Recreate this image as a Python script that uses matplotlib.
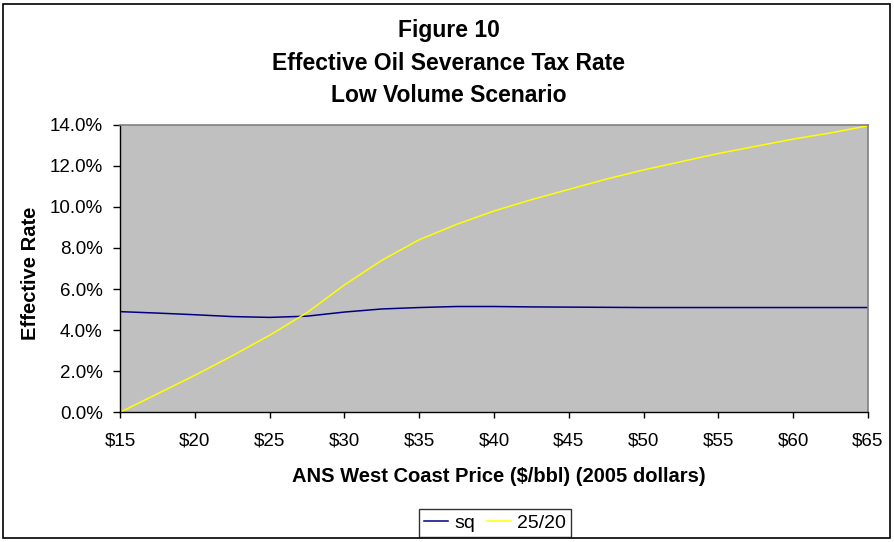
import matplotlib
matplotlib.use("Agg")
import matplotlib.pyplot as plt
from matplotlib.patches import Rectangle
from matplotlib.ticker import FuncFormatter, MultipleLocator

plt.rcParams['font.family'] = ['Liberation Sans', 'DejaVu Sans']

price = [15, 17.5, 20, 22.5, 25, 27.5, 30, 32.5, 35, 37.5, 40, 42.5, 45,
         47.5, 50, 52.5, 55, 57.5, 60, 62.5, 65]
sq = [4.90, 4.83, 4.75, 4.66, 4.62, 4.68, 4.88, 5.03, 5.10, 5.15, 5.15, 5.13,
      5.12, 5.11, 5.10, 5.10, 5.10, 5.10, 5.10, 5.10, 5.10]
alt = [0.0, 0.9, 1.8, 2.75, 3.75, 4.85, 6.2, 7.4, 8.4, 9.15, 9.8, 10.35, 10.85,
       11.35, 11.8, 12.2, 12.6, 12.95, 13.3, 13.6, 13.95]
series_names = ["sq", "25/20"]
title_lines = ["Figure 10", "Effective Oil Severance Tax Rate", "Low Volume Scenario"]

W, H = 895, 542
fig = plt.figure(figsize=(W / 100, H / 100), dpi=100)
fig.patch.set_facecolor('white')
fig.patches.append(Rectangle((3 / W, 4 / H), 887 / W, 534 / H, transform=fig.transFigure,
                             fill=False, edgecolor='black', linewidth=1.2))

ax = fig.add_axes([120 / W, 1 - 412.3 / H, 748 / W, 287.6 / H])
ax.set_facecolor('#C0C0C0')
ax.plot(price, sq, color='#000080', lw=1.1, label=series_names[0])
ax.plot(price, alt, color='#FFFF00', lw=1.1, label=series_names[1])
ax.set_xlim(15, 65)
ax.set_ylim(0, 14)
ax.xaxis.set_major_locator(MultipleLocator(5))
ax.yaxis.set_major_locator(MultipleLocator(2))
ax.xaxis.set_major_formatter(FuncFormatter(lambda v, p: f"${v:.0f}"))
ax.yaxis.set_major_formatter(FuncFormatter(lambda v, p: f"{v:.1f}%"))
ax.tick_params(axis='both', direction='out', width=1, labelsize=13.5, colors='black')
ax.tick_params(axis='x', length=4.5, pad=10)
ax.tick_params(axis='y', length=5, pad=7.5)
for s in ['top', 'right']:
    ax.spines[s].set_color('#808080')
    ax.spines[s].set_linewidth(1.2)
for s in ['left', 'bottom']:
    ax.spines[s].set_color('black')
    ax.spines[s].set_linewidth(1.0)

ax.set_xlabel("ANS West Coast Price ($/bbl) (2005 dollars)", fontsize=14.5, fontweight='bold')
ax.xaxis.label.set_va('center')
ax.xaxis.set_label_coords((499 - 120) / 748, (412.3 - 476) / 287.6)
ax.set_ylabel("Effective Rate", fontsize=14.5, fontweight='bold')
ax.yaxis.label.set_va('center')
ax.yaxis.set_label_coords((30 - 120) / 748, (412.3 - 273) / 287.6)

ys = [30, 63, 95]
for t, y in zip(title_lines, ys):
    fig.text(449 / W, 1 - y / H, t, ha='center', va='center', fontsize=16.5, fontweight='bold')

leg = fig.legend(loc='center', bbox_to_anchor=(495 / W, 1 - 523 / H), ncol=2, fontsize=14,
                 frameon=True, fancybox=False, edgecolor='black', handlelength=1.25,
                 handletextpad=0.3, columnspacing=0.6, borderpad=0.25, borderaxespad=0)
leg.get_frame().set_linewidth(1.0)

fig.savefig("out.png", dpi=100)
